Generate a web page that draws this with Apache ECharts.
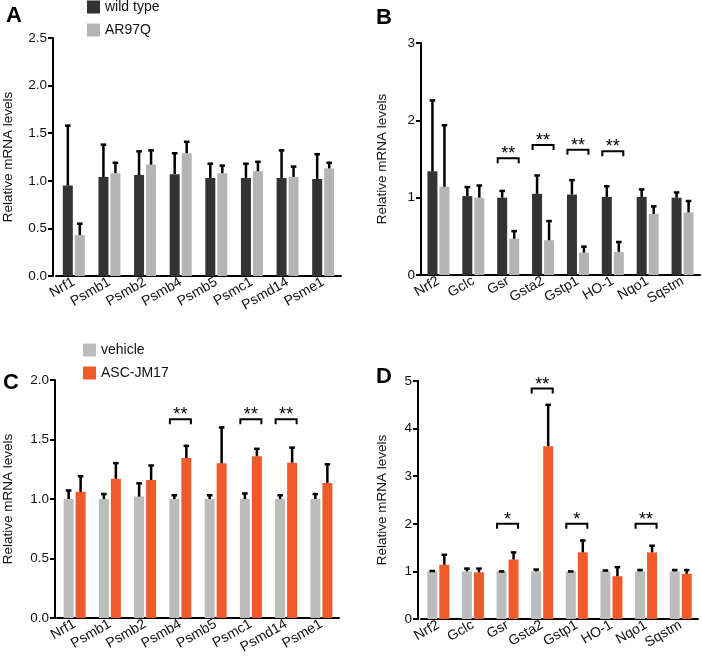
<!DOCTYPE html>
<html><head><meta charset="utf-8">
<script src="https://cdn.jsdelivr.net/npm/echarts@6/dist/echarts.min.js"></script>
<style>html,body{margin:0;padding:0;background:#fff}#c{width:702px;height:663px}</style>
</head><body><div id="c"></div>
<script>
const catsA = ['Nrf1','Psmb1','Psmb2','Psmb4','Psmb5','Psmc1','Psmd14','Psme1'];
const catsB = ['Nrf2','Gclc','Gsr','Gsta2','Gstp1','HO-1','Nqo1','Sqstm'];
// Panel A
const aWild   = [0.95,1.04,1.06,1.07,1.03,1.03,1.03,1.02];
const aWildUp = [1.59,1.39,1.32,1.30,1.19,1.19,1.33,1.29];
const aAR     = [0.43,1.08,1.17,1.29,1.08,1.10,1.04,1.13];
const aARUp   = [0.56,1.20,1.33,1.42,1.17,1.21,1.16,1.20];
// Panel B
const bWild   = [1.34,1.02,1.00,1.05,1.04,1.01,1.01,1.00];
const bWildUp = [2.27,1.15,1.10,1.30,1.24,1.16,1.12,1.08];
const bAR     = [1.14,1.00,0.47,0.45,0.29,0.30,0.79,0.81];
const bARUp   = [1.95,1.17,0.58,0.71,0.38,0.44,0.90,0.97];
const bSig    = [[2,1.51,'**'],[3,1.68,'**'],[4,1.62,'**'],[5,1.60,'**']];
// Panel C
const cVeh    = [1.00,1.00,1.02,1.00,1.00,1.00,1.00,1.00];
const cVehUp  = [1.08,1.05,1.14,1.04,1.04,1.055,1.04,1.05];
const cASC    = [1.06,1.17,1.16,1.345,1.30,1.36,1.305,1.135];
const cASCUp  = [1.20,1.31,1.29,1.455,1.61,1.43,1.44,1.30];
const cSig    = [[3,1.67,'**'],[5,1.67,'**'],[6,1.67,'**']];
// Panel D
const dVeh    = [1.00,1.00,1.00,1.00,1.00,1.00,1.00,1.00];
const dVehUp  = [1.03,1.08,1.02,1.06,1.02,1.04,1.05,1.05];
const dASC    = [1.14,0.98,1.25,3.63,1.40,0.90,1.40,0.95];
const dASCUp  = [1.37,1.08,1.42,4.52,1.67,1.11,1.56,1.05];
const dSig    = [[2,2.0,'*'],[3,4.84,'**'],[4,2.0,'*'],[6,2.0,'**']];

const FONT = '"Liberation Sans", Arial, Helvetica, sans-serif';
const C_DARK = '#333333', C_LIGHT = '#b4b4b4', C_VEH = '#bcbcbc', C_OR = '#ee5a2a';
const BAR_W = 10, HALF = 6;

const grids = [
  {left:55, top:38, width:286, height:238},
  {left:421, top:43, width:279, height:232},
  {left:53, top:380, width:286, height:238},
  {left:421, top:381, width:277, height:238}
];
const yConf = [
  {max:2.5, interval:0.5, dec:1, offset:3, gap:38},
  {max:3, interval:1, dec:0, offset:0, gap:32},
  {max:2, interval:0.5, dec:1, offset:2, gap:40},
  {max:5, interval:1, dec:0, offset:3, gap:29}
];
const xAxes = [catsA, catsB, catsA, catsB].map((c,i)=>({
  type:'category', gridIndex:i, data:c,
  axisLine:{lineStyle:{color:'#000', width:2}},
  axisTick:{show:false},
  axisLabel:{rotate:30, fontSize:14, color:'#111', fontFamily:FONT, margin:5, interval:0}
}));
const yAxes = yConf.map((y,i)=>({
  type:'value', gridIndex:i, min:0, max:y.max, interval:y.interval, offset:y.offset,
  name:'Relative mRNA levels', nameLocation:'middle', nameGap:y.gap,
  nameTextStyle:{fontSize:13.5, color:'#111', fontFamily:FONT},
  axisLine:{show:true, lineStyle:{color:'#000', width:2}},
  axisTick:{show:true, length:5, lineStyle:{color:'#000', width:2}},
  splitLine:{show:false},
  axisLabel:{fontSize:13.5, color:'#111', fontFamily:FONT, margin:6,
    formatter:v=>v.toFixed(y.dec)}
}));

function bar(name, data, color, gi){
  return {type:'bar', name, data, xAxisIndex:gi, yAxisIndex:gi, barWidth:BAR_W, barGap:'20%',
    itemStyle:{color}, z:2, animation:false};
}
function errSeries(vals, ups, side, gi){
  return {type:'custom', xAxisIndex:gi, yAxisIndex:gi, z:3, animation:false, silent:true,
    data: vals.map((v,i)=>[i, v, ups[i]]),
    encode:{x:0, y:[1,2]},
    renderItem(params, api){
      const b = api.coord([api.value(0), api.value(1)]);
      const t = api.coord([api.value(0), api.value(2)]);
      const x = b[0] + side*HALF;
      return {type:'group', children:[
        {type:'line', shape:{x1:x, y1:b[1], x2:x, y2:t[1]+1}, style:{stroke:'#000', lineWidth:2.5}},
        {type:'line', shape:{x1:x-2.8, y1:t[1]+1, x2:x+2.8, y2:t[1]+1}, style:{stroke:'#000', lineWidth:2.5}}
      ]};
    }};
}
function sigSeries(sig, gi){
  return {type:'custom', xAxisIndex:gi, yAxisIndex:gi, z:4, animation:false, silent:true,
    data: sig.map(s=>[s[0], s[1]]),
    encode:{x:0, y:1},
    renderItem(params, api){
      const p = api.coord([api.value(0), api.value(1)]);
      const lbl = sig[params.dataIndex][2];
      const l = p[0]-10.5, r = p[0]+10.5, y = p[1];
      return {type:'group', children:[
        {type:'polyline', shape:{points:[[l,y+5],[l,y],[r,y],[r,y+5]]}, style:{stroke:'#000', lineWidth:2, fill:null}},
        {type:'text', style:{text:lbl, x:p[0], y:y-4, align:'center', verticalAlign:'middle',
          fontSize:18, fontFamily:FONT, fill:'#000'}}
      ]};
    }};
}

const series = [
  bar('wild type', aWild, C_DARK, 0), bar('AR97Q', aAR, C_LIGHT, 0),
  errSeries(aWild, aWildUp, -1, 0), errSeries(aAR, aARUp, 1, 0),
  bar('wild type', bWild, C_DARK, 1), bar('AR97Q', bAR, C_LIGHT, 1),
  errSeries(bWild, bWildUp, -1, 1), errSeries(bAR, bARUp, 1, 1), sigSeries(bSig, 1),
  bar('vehicle', cVeh, C_VEH, 2), bar('ASC-JM17', cASC, C_OR, 2),
  errSeries(cVeh, cVehUp, -1, 2), errSeries(cASC, cASCUp, 1, 2), sigSeries(cSig, 2),
  bar('vehicle', dVeh, C_VEH, 3), bar('ASC-JM17', dASC, C_OR, 3),
  errSeries(dVeh, dVehUp, -1, 3), errSeries(dASC, dASCUp, 1, 3), sigSeries(dSig, 3)
];

const letterStyle = {fontSize:22, fontWeight:'bold', color:'#000', fontFamily:FONT};
const option = {
  backgroundColor:'#fff',
  animation:false,
  title:[
    {text:'A', left:6, top:5, padding:0, textStyle:letterStyle},
    {text:'B', left:376, top:7, padding:0, textStyle:letterStyle},
    {text:'C', left:3, top:372, padding:0, textStyle:letterStyle},
    {text:'D', left:376, top:366, padding:0, textStyle:letterStyle}
  ],
  legend:[
    {data:['wild type','AR97Q'], orient:'vertical', left:87, top:0, padding:0, itemWidth:13, itemHeight:13, itemGap:9,
     icon:'rect', textStyle:{fontSize:14, color:'#111', fontFamily:FONT}},
    {data:['vehicle','ASC-JM17'], orient:'vertical', left:83, top:343, padding:0, itemWidth:13, itemHeight:13, itemGap:9,
     icon:'rect', textStyle:{fontSize:14, color:'#111', fontFamily:FONT}}
  ],
  grid:grids,
  xAxis:xAxes,
  yAxis:yAxes,
  series
};
const chart = echarts.init(document.getElementById('c'), null, {renderer:'canvas'});
chart.setOption(option);
</script></body></html>
